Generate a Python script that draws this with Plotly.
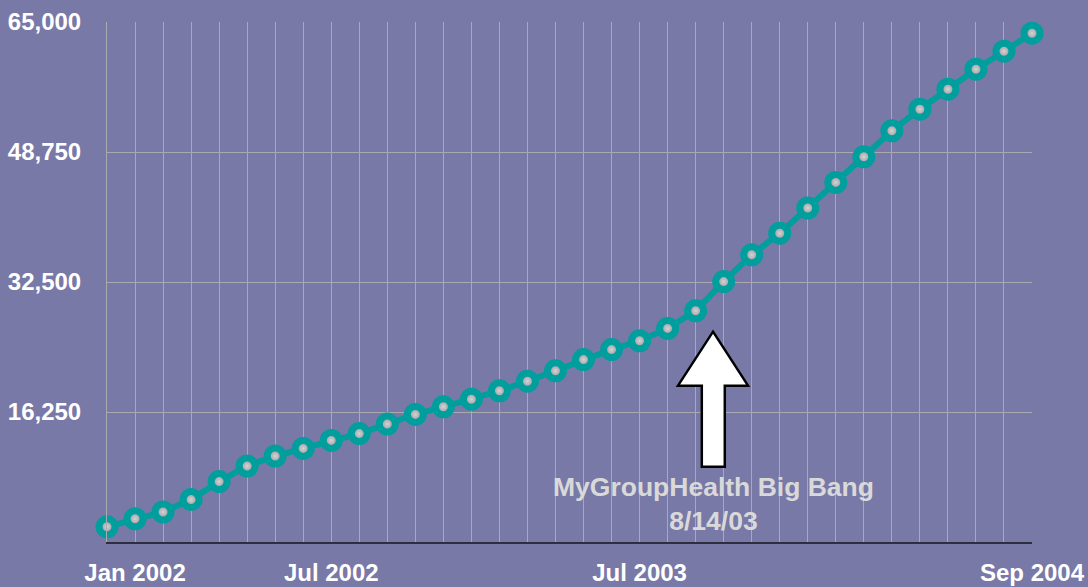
import plotly.graph_objects as go

# Data (monthly points)
month_index = list(range(34))
members = [1900, 2900, 3750, 5300, 7550, 9500, 10750, 11700, 12700, 13550,
           14750, 15950, 16900, 17850, 18900, 20100, 21400, 22800, 24050, 25150,
           26700, 28900, 32550, 35900, 38600, 41750, 44950, 48150, 51400, 54100,
           56600, 59100, 61350, 63600]

x_tick_vals = [1, 8, 19, 33]
x_tick_text = ["Jan 2002", "Jul 2002", "Jul 2003", "Sep 2004"]
y_tick_vals = [16250, 32500, 48750, 65000]

BG = "#7979A7"
GRID = "#A9A9B2"
TEAL = "#009E9C"
FONT = "Arial, Liberation Sans, sans-serif"

fig = go.Figure()
fig.add_trace(go.Scatter(
    x=month_index, y=members, mode="lines+markers",
    line=dict(color=TEAL, width=6),
    marker=dict(size=16, color="#8A8A90",
                gradient=dict(type="radial", color="#D4D4D6"),
                line=dict(color=TEAL, width=7)),
    cliponaxis=False, hoverinfo="x+y", showlegend=False,
))

# Big arrow (block arrow pointing up)
tip = (21.62, 26290)
head_y = 19540
head_l, head_r = 20.37, 22.87
shaft_l, shaft_r = 21.22, 22.04
bottom_y = 9410
path = (f"M {tip[0]},{tip[1]} L {head_r},{head_y} L {shaft_r},{head_y} "
        f"L {shaft_r},{bottom_y} L {shaft_l},{bottom_y} L {shaft_l},{head_y} "
        f"L {head_l},{head_y} Z")
fig.add_shape(type="path", path=path, xref="x", yref="y",
              fillcolor="white", line=dict(color="black", width=2.5), layer="above")

fig.add_annotation(x=21.62, y=4700, xref="x", yref="y",
                   text="<b>MyGroupHealth Big Bang</b><br><b>8/14/03</b>",
                   showarrow=False, align="center",
                   font=dict(family=FONT, size=26.5, color="#D9D9D9"))

fig.update_layout(
    width=1088, height=587,
    paper_bgcolor=BG, plot_bgcolor=BG,
    margin=dict(l=107, r=56, t=22, b=45, autoexpand=False),
    font=dict(family=FONT, color="white"),
    xaxis=dict(
        range=[0, 33], tickmode="array", tickvals=x_tick_vals, ticktext=x_tick_text,
        tickfont=dict(family=FONT, size=24, color="white", weight="bold"),
        ticks="outside", ticklen=8, tickcolor="rgba(0,0,0,0)",
        showgrid=True, gridcolor=GRID, gridwidth=1,
        minor=dict(dtick=1, tick0=0, showgrid=True, gridcolor=GRID, gridwidth=1),
        showline=True, linecolor="#2E2E3E", linewidth=2,
        zeroline=False, fixedrange=True,
    ),
    yaxis=dict(
        range=[0, 65000], tickmode="array", tickvals=y_tick_vals,
        tickformat=",", tickfont=dict(family=FONT, size=24, color="white", weight="bold"),
        ticks="outside", ticklen=20, tickcolor="rgba(0,0,0,0)",
        showgrid=True, gridcolor=GRID, gridwidth=1,
        showline=True, linecolor=GRID, linewidth=1,
        zeroline=False, fixedrange=True,
    ),
)

fig.write_html("out.html", config={"displayModeBar": False},
               post_script="document.body.style.margin='0';document.body.style.overflow='hidden';")
